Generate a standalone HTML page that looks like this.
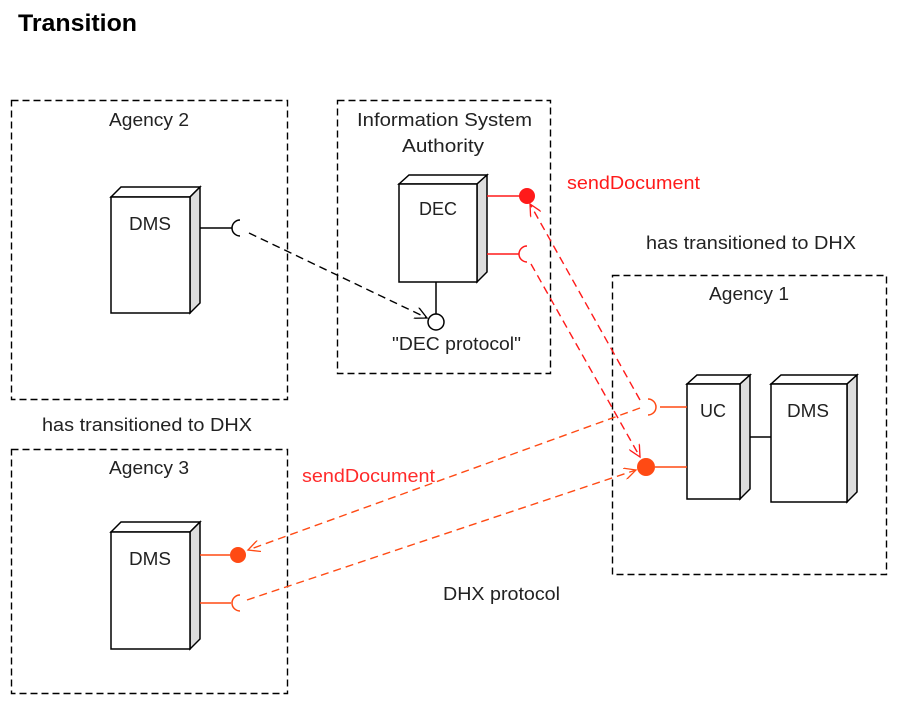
<!DOCTYPE html>
<html><head><meta charset="utf-8"><style>
html,body{margin:0;padding:0;background:#fff;}
svg text{font-family:"Liberation Sans",sans-serif;}
</style></head><body>
<svg width="912" height="715" viewBox="0 0 912 715" xmlns="http://www.w3.org/2000/svg">
<defs>
<marker id="ab" markerWidth="14" markerHeight="12" refX="12" refY="6" orient="auto" markerUnits="userSpaceOnUse"><path d="M0,0 L12,6 L0,12" fill="none" stroke="#000" stroke-width="1.3"/></marker>
<marker id="ar" markerWidth="14" markerHeight="12" refX="12" refY="6" orient="auto" markerUnits="userSpaceOnUse"><path d="M0,0 L12,6 L0,12" fill="none" stroke="#ff1a1a" stroke-width="1.3"/></marker>
<marker id="ao" markerWidth="14" markerHeight="12" refX="12" refY="6" orient="auto" markerUnits="userSpaceOnUse"><path d="M0,0 L12,6 L0,12" fill="none" stroke="#ff4a14" stroke-width="1.3"/></marker>
</defs>
<text x="18" y="31" font-size="24" font-weight="bold" textLength="119" lengthAdjust="spacingAndGlyphs">Transition</text>
<g fill="none" stroke="#000" stroke-width="1.4" stroke-dasharray="7,4">
<rect x="11.5" y="100.5" width="276" height="299"/>
<rect x="337.5" y="100.5" width="213" height="273"/>
<rect x="612.5" y="275.5" width="274" height="299"/>
<rect x="11.5" y="449.5" width="276" height="244"/>
</g>
<g stroke="#000" stroke-width="1.5">
<g><path d="M111,197 L121,187 L200,187 L190,197Z" fill="#fff"/><path d="M190,197 L200,187 L200,303 L190,313Z" fill="#ddd"/><rect x="111" y="197" width="79" height="116" fill="#fff"/></g>
<g><path d="M399,184 L409,175 L487,175 L477,184Z" fill="#fff"/><path d="M477,184 L487,175 L487,272 L477,282Z" fill="#ddd"/><rect x="399" y="184" width="78" height="98" fill="#fff"/></g>
<g><path d="M687,384 L697,375 L750,375 L740,384Z" fill="#fff"/><path d="M740,384 L750,375 L750,489 L740,499Z" fill="#ddd"/><rect x="687" y="384" width="53" height="115" fill="#fff"/></g>
<g><path d="M771,384 L781,375 L857,375 L847,384Z" fill="#fff"/><path d="M847,384 L857,375 L857,492 L847,502Z" fill="#ddd"/><rect x="771" y="384" width="76" height="118" fill="#fff"/></g>
<g><path d="M111,532 L121,522 L200,522 L190,532Z" fill="#fff"/><path d="M190,532 L200,522 L200,639 L190,649Z" fill="#ddd"/><rect x="111" y="532" width="79" height="117" fill="#fff"/></g>
</g>
<g font-size="18" fill="#222" lengthAdjust="spacingAndGlyphs">
<text x="109" y="126" textLength="80" lengthAdjust="spacingAndGlyphs">Agency 2</text>
<text x="357" y="126" textLength="175" lengthAdjust="spacingAndGlyphs">Information System</text>
<text x="402" y="152" textLength="82" lengthAdjust="spacingAndGlyphs">Authority</text>
<text x="709" y="300" textLength="80" lengthAdjust="spacingAndGlyphs">Agency 1</text>
<text x="109" y="474" textLength="80" lengthAdjust="spacingAndGlyphs">Agency 3</text>
<text x="129" y="230" textLength="42" lengthAdjust="spacingAndGlyphs">DMS</text>
<text x="419" y="215" textLength="38" lengthAdjust="spacingAndGlyphs">DEC</text>
<text x="700" y="417" textLength="26" lengthAdjust="spacingAndGlyphs">UC</text>
<text x="787" y="417" textLength="42" lengthAdjust="spacingAndGlyphs">DMS</text>
<text x="129" y="565" textLength="42" lengthAdjust="spacingAndGlyphs">DMS</text>
<text x="392" y="350" textLength="129" lengthAdjust="spacingAndGlyphs">"DEC protocol"</text>
<text x="646" y="249" textLength="210" lengthAdjust="spacingAndGlyphs">has transitioned to DHX</text>
<text x="42" y="431" textLength="210" lengthAdjust="spacingAndGlyphs">has transitioned to DHX</text>
<text x="443" y="600" textLength="117" lengthAdjust="spacingAndGlyphs">DHX protocol</text>
</g>
<text x="567" y="189" font-size="18" fill="#ff1a1a" textLength="133" lengthAdjust="spacingAndGlyphs">sendDocument</text>
<text x="302" y="482" font-size="18" fill="#ff2a2a" textLength="133" lengthAdjust="spacingAndGlyphs">sendDocument</text>
<g stroke="#000" stroke-width="1.5" fill="none">
<line x1="200" y1="228" x2="232" y2="228"/>
<path d="M240,220 A8,8 0 0 0 240,236"/>
<line x1="750" y1="437" x2="771" y2="437"/>
<line x1="436" y1="282" x2="436" y2="314"/>
<circle cx="436" cy="322" r="8" fill="#fff"/>
</g>
<line x1="249" y1="233" x2="427" y2="318" stroke="#000" stroke-width="1.4" stroke-dasharray="8,5" marker-end="url(#ab)"/>
<g stroke="#ff1a1a" stroke-width="1.5" fill="none">
<line x1="487" y1="196" x2="520" y2="196"/>
<line x1="487" y1="254" x2="519" y2="254"/>
<path d="M527,246 A8,8 0 0 0 527,262"/>
</g>
<circle cx="527" cy="196" r="8" fill="#ff1a1a"/>
<g stroke="#ff1a1a" stroke-width="1.4" stroke-dasharray="8,5" fill="none">
<line x1="640" y1="400" x2="530" y2="204" marker-end="url(#ar)"/>
<line x1="531" y1="264" x2="640" y2="457" marker-end="url(#ar)"/>
</g>
<g stroke="#ff4a14" stroke-width="1.5" fill="none">
<line x1="660" y1="407" x2="687" y2="407"/>
<path d="M648,399 A8,8 0 0 1 648,415"/>
<line x1="655" y1="467" x2="687" y2="467"/>
<line x1="200" y1="555" x2="230" y2="555"/>
<line x1="200" y1="603" x2="231" y2="603"/>
<path d="M240,595 A8,8 0 0 0 240,611"/>
</g>
<circle cx="646" cy="467" r="9" fill="#ff4a14"/>
<circle cx="238" cy="555" r="8" fill="#ff4a14"/>
<g stroke="#ff4a14" stroke-width="1.4" stroke-dasharray="8,5" fill="none">
<line x1="640" y1="408" x2="248" y2="550" marker-end="url(#ao)"/>
<line x1="247" y1="600" x2="636" y2="470" marker-end="url(#ao)"/>
</g>
</svg>
</body></html>
